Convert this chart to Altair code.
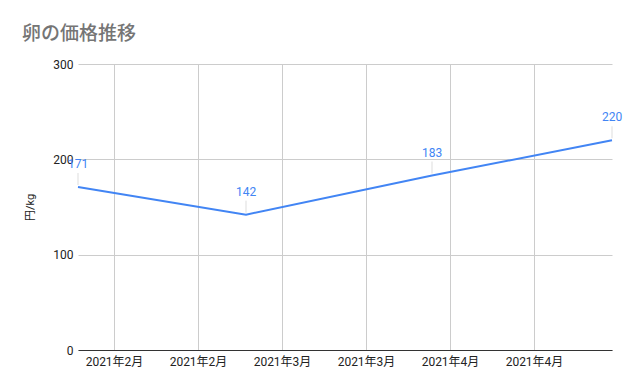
import altair as alt
import pandas as pd

dates = ["2021-02-01T00:00:00", "2021-03-01T00:00:00", "2021-04-01T00:00:00", "2021-05-01T00:00:00"]
prices = [171, 142, 183, 220]
tick_days = [(2021, 2, 7), (2021, 2, 21), (2021, 3, 7), (2021, 3, 21), (2021, 4, 4), (2021, 4, 18)]
y_ticks = [0, 100, 200, 300]

df = pd.DataFrame({"date": dates, "price": prices})

FONT = "Roboto, Noto Sans CJK JP, sans-serif"
BLUE = "#4285F4"

x_enc = alt.X(
    "date:T",
    scale=alt.Scale(domain=[alt.DateTime(year=2021, month=2, date=1), alt.DateTime(year=2021, month=5, date=1)], nice=False),
    axis=alt.Axis(
        values=[alt.DateTime(year=y, month=m, date=d) for (y, m, d) in tick_days],
        format="%Y年%-m月",
        title=None,
        grid=True,
        gridColor="#cccccc",
        domainColor="#333333",
        ticks=False,
        labelPadding=6,
        labelFontSize=12,
        labelColor="#222222",
        labelFont=FONT,
    ),
)
y_enc = alt.Y(
    "price:Q",
    scale=alt.Scale(domain=[0, 300], nice=False),
    axis=alt.Axis(
        values=y_ticks,
        title="円/kg",
        titleFont=FONT,
        titleFontSize=11,
        titleFontWeight="normal",
        titleColor="#222222",
        titleAngle=-90,
        titleX=-48,
        titleY=143,
        titleAlign="center",
        titleBaseline="middle",
        grid=True,
        gridColor="#cccccc",
        domain=False,
        ticks=False,
        labelPadding=5,
        labelFontSize=12,
        labelColor="#222222",
        labelFont=FONT,
    ),
)

base = alt.Chart(df)
line = base.mark_line(color=BLUE, strokeWidth=2).encode(x=x_enc, y=y_enc)
leaders = base.mark_rule(color="#dddddd", strokeWidth=1, yOffset=-2, y2Offset=-14).encode(
    x="date:T", y="price:Q", y2="price:Q"
)
labels = base.mark_text(color=BLUE, fontSize=12, font=FONT, dy=-23, baseline="middle").encode(
    x="date:T", y="price:Q", text="price:Q"
)

chart = (
    alt.layer(leaders, line, labels)
    .properties(
        width=534,
        height=286,
        autosize=alt.AutoSizeParams(type="none"),
        padding={"left": 78, "top": 64, "right": 20, "bottom": 41},
        title=alt.TitleParams(
            "卵の価格推移",
            anchor="start",
            frame="group",
            dx=-56,
            offset=14,
            fontSize=19,
            font=FONT,
            fontWeight=500,
            color="#757575",
        ),
    )
    .configure_view(stroke=None)
)

chart.save("out.html", embed_options={"renderer": "svg", "actions": False})
